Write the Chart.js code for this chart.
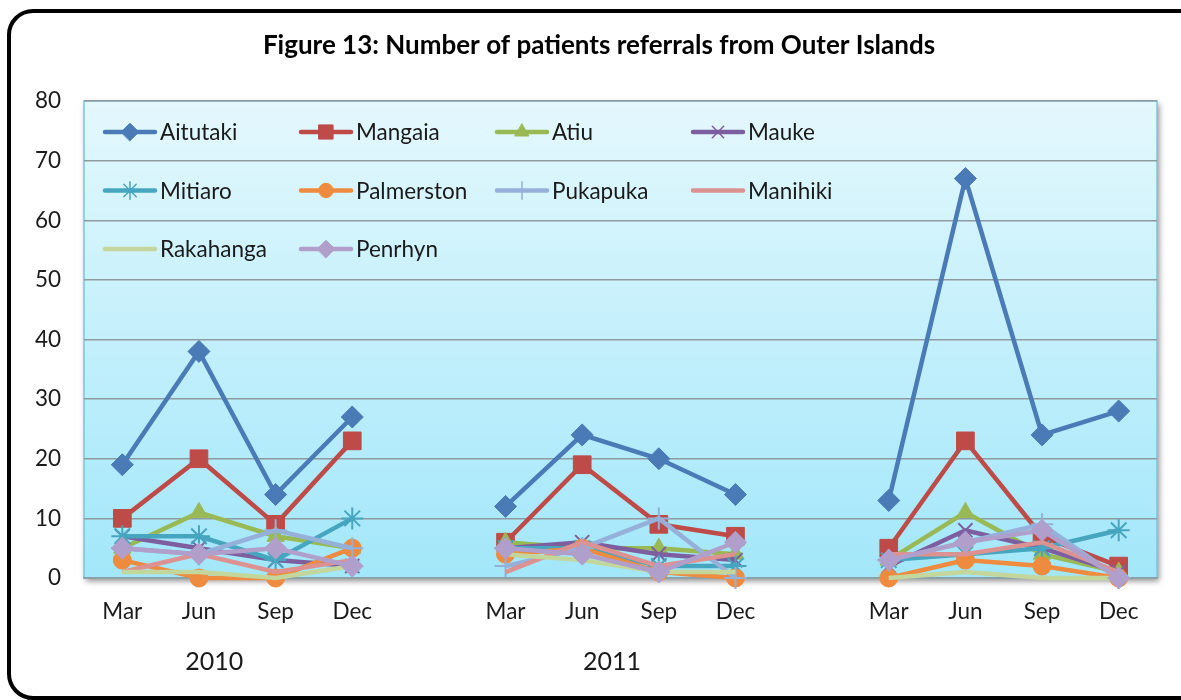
<!DOCTYPE html>
<html>
<head>
<meta charset="utf-8">
<script src="https://cdn.jsdelivr.net/npm/chart.js@4/dist/chart.umd.min.js"></script>
<style>
  html, body { margin: 0; padding: 0; background: #fff; overflow: hidden; }
  .frame {
    position: absolute; left: 7px; top: 9px; width: 1200px; height: 683px;
    border: 4px solid #000; border-radius: 26px;
  }
  #chart { position: absolute; left: 0; top: 0; }
</style>
</head>
<body>
<div class="frame"></div>
<canvas id="chart" width="1181" height="700"></canvas>
<script>
/* ========== Data ========== */
const quarters = ['Mar', 'Jun', 'Sep', 'Dec', '', 'Mar', 'Jun', 'Sep', 'Dec', '', 'Mar', 'Jun', 'Sep', 'Dec'];
const years = ['2010', '2011'];

const aitutaki   = [19, 38, 14, 27, null, 12, 24, 20, 14, null, 13, 67, 24, 28];
const mangaia    = [10, 20,  9, 23, null,  6, 19,  9,  7, null,  5, 23,  7,  2];
const atiu       = [ 5, 11,  7,  5, null,  6,  5,  5,  4, null,  3, 11,  4,  1];
const mauke      = [ 7,  5,  3,  2, null,  5,  6,  4,  3, null,  2,  8,  5,  1];
const mitiaro    = [ 7,  7,  3, 10, null,  5,  5,  2,  2, null,  3,  4,  5,  8];
const palmerston = [ 3,  0,  0,  5, null,  4,  5,  1,  0, null,  0,  3,  2,  0];
const pukapuka   = [ 5,  4,  8,  5, null,  2,  5, 10,  0, null,  3,  6,  9,  0];
const manihiki   = [ 1,  4,  1,  3, null,  1,  6,  2,  4, null,  4,  4,  6,  1];
const rakahanga  = [ 1,  1,  0,  2, null,  4,  3,  1,  1, null,  0,  1,  0,  0];
const penrhyn    = [ 5,  4,  5,  2, null,  5,  4,  1,  6, null,  3,  6,  8,  0];

const yTicks = [0, 10, 20, 30, 40, 50, 60, 70, 80];

/* ========== Series styling ========== */
const FONT = 'Lato, "Open Sans", sans-serif';
const series = [
  { label: 'Aitutaki',   data: aitutaki,   color: '#4a7bb7', style: 'rectRot',  r: 11 },
  { label: 'Mangaia',    data: mangaia,    color: '#be4b48', style: 'rect',     r: 12.5 },
  { label: 'Atiu',       data: atiu,       color: '#98b954', style: 'triangle', r: 10 },
  { label: 'Mauke',      data: mauke,      color: '#7d5fa0', style: 'crossRot', r: 10 },
  { label: 'Mitiaro',    data: mitiaro,    color: '#46a5bf', style: 'star',     r: 11 },
  { label: 'Palmerston', data: palmerston, color: '#ee8b3e', style: 'circle',   r: 9 },
  { label: 'Pukapuka',   data: pukapuka,   color: '#95b0d9', style: 'cross',    r: 11 },
  { label: 'Manihiki',   data: manihiki,   color: '#dc9291', style: false,      r: 0 },
  { label: 'Rakahanga',  data: rakahanga,  color: '#c3d69b', style: false,      r: 0 },
  { label: 'Penrhyn',    data: penrhyn,    color: '#b09fca', style: 'rectRot',  r: 11 }
];

const thinMarker = s => ['crossRot', 'star', 'cross'].includes(s);

const datasets = series.map((s, i) => ({
  label: s.label,
  data: s.data,
  borderColor: s.color,
  backgroundColor: s.color,
  borderWidth: 4.5,
  tension: 0,
  pointStyle: s.style,
  pointRadius: s.r,
  pointHoverRadius: s.r,
  pointBackgroundColor: s.color,
  pointBorderColor: s.color,
  pointBorderWidth: thinMarker(s.style) ? 2 : 1,
  clip: false,
  order: series.length - i   // later series on top, like Excel
}));

/* ========== Plot background ========== */
const plotBackground = {
  id: 'plotBackground',
  beforeDraw(chart) {
    const { ctx, chartArea: a } = chart;
    ctx.save();
    ctx.shadowColor = 'rgba(0,0,0,0.45)';
    ctx.shadowBlur = 6;
    ctx.shadowOffsetX = 2;
    ctx.shadowOffsetY = 3;
    const g = ctx.createLinearGradient(0, a.top, 0, a.bottom);
    g.addColorStop(0, '#e4f8fd');
    g.addColorStop(1, '#a2e7fa');
    ctx.fillStyle = g;
    ctx.fillRect(a.left, a.top, a.width, a.height);
    ctx.restore();
    ctx.save();
    ctx.strokeStyle = '#7cc6da';
    ctx.lineWidth = 1.5;
    ctx.strokeRect(a.left, a.top, a.width, a.height);
    ctx.restore();
  }
};

/* ========== Title, legend and year labels ========== */
const extras = {
  id: 'extras',
  afterDraw(chart) {
    const { ctx, chartArea: a, scales: { x } } = chart;
    ctx.save();
    ctx.fillStyle = '#000';
    ctx.textBaseline = 'middle';

    // title
    ctx.font = 'bold 26px ' + FONT;
    ctx.textAlign = 'center';
    ctx.fillText('Figure 13: Number of patients referrals from Outer Islands', 599, 46);

    // legend: 4 columns inside the plot area
    ctx.font = '22.5px ' + FONT;
    ctx.textAlign = 'left';
    series.forEach((s, i) => {
      const lx = a.left + 21 + (i % 4) * 196;
      const ly = a.top + 31 + Math.floor(i / 4) * 58.5;
      ctx.strokeStyle = s.color;
      ctx.fillStyle = s.color;
      ctx.lineWidth = 4.5;
      ctx.lineCap = 'round';
      ctx.beginPath();
      ctx.moveTo(lx, ly);
      ctx.lineTo(lx + 50, ly);
      ctx.stroke();
      if (s.style) {
        ctx.lineWidth = thinMarker(s.style) ? 1.5 : 1;
        Chart.helpers.drawPoint(ctx, { pointStyle: s.style, radius: s.r * 0.8, rotation: 0, borderWidth: ctx.lineWidth }, lx + 25, ly);
      }
      ctx.fillStyle = '#1a1a1a';
      ctx.fillText(s.label, lx + 55, ly + 1);
    });

    // year labels under the quarter ticks
    const step = x.getPixelForValue(1) - x.getPixelForValue(0);
    const anchors = [1.2, 6.39];
    ctx.font = '25px ' + FONT;
    ctx.textAlign = 'center';
    years.forEach((y, i) => {
      ctx.fillText(y, x.getPixelForValue(0) + anchors[i] * step, 662);
    });
    ctx.restore();
  }
};

/* ========== Chart ========== */
new Chart(document.getElementById('chart'), {
  type: 'line',
  data: { labels: quarters, datasets },
  plugins: [plotBackground, extras],
  options: {
    responsive: false,
    animation: false,
    spanGaps: false,
    layout: { padding: { top: 101, right: 24, bottom: 0, left: 0 } },
    plugins: {
      legend: { display: false },
      title: { display: false },
      tooltip: { enabled: false }
    },
    scales: {
      x: {
        offset: true,
        grid: { display: false, drawTicks: false },
        border: { display: true, color: '#8a9ea6', width: 1.5 },
        ticks: {
          autoSkip: false, maxRotation: 0, padding: 20,
          color: '#1a1a1a', font: { family: FONT, size: 22.5 }
        },
        afterFit(scale) { scale.height = 122; }
      },
      y: {
        min: 0, max: 80,
        afterBuildTicks(scale) { scale.ticks = yTicks.map(v => ({ value: v })); },
        grid: { color: '#8f9a9e', lineWidth: 1.5, drawTicks: false },
        border: { display: false },
        ticks: {
          padding: 23, color: '#1a1a1a',
          font: { family: FONT, size: 22.5 }
        },
        afterFit(scale) { scale.width = 84; }
      }
    }
  }
});
</script>
</body>
</html>
